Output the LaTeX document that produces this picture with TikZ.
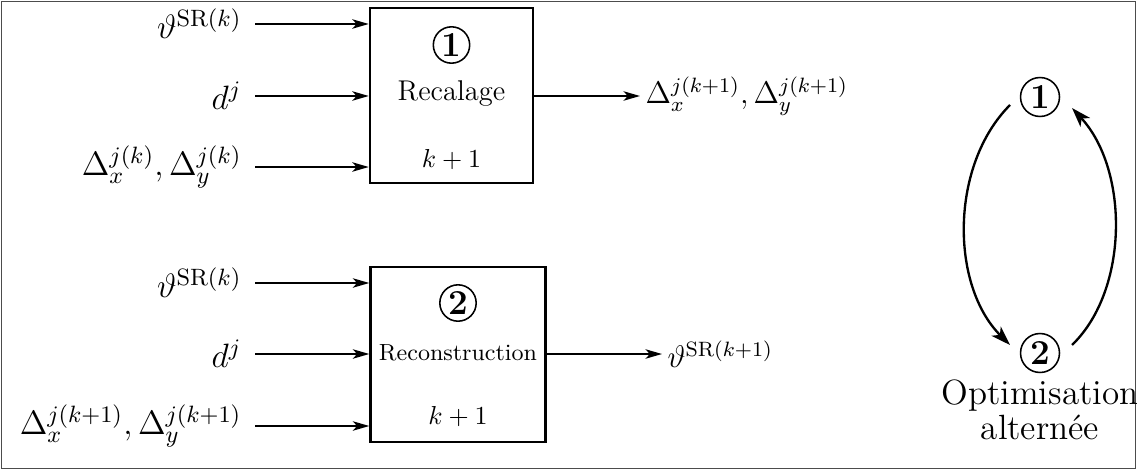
\RequirePackage{fix-cm}
\documentclass[tikz,border=0pt]{standalone}
\usetikzlibrary{arrows.meta}
\begin{document}
\begin{tikzpicture}[x=0.385pt,y=-0.385pt,
  arr/.style={line width=0.8pt,-{Stealth[length=6.3pt,width=3.6pt,inset=1.6pt]}},
  blk/.style={draw,line width=0.9pt,minimum width=#1,minimum height=67.4pt,inner sep=0pt},
  inlab/.style={anchor=east,inner xsep=5pt,inner ysep=0pt,font=\fontsize{13}{15}\selectfont},
  outlab/.style={anchor=west,inner xsep=2pt,inner ysep=0pt,font=\fontsize{12}{14}\selectfont},
  num/.style={circle,draw,line width=0.6pt,minimum size=14pt,inner sep=0pt,font=\fontsize{13.5}{15}\selectfont\bfseries},
  cyc/.style={line width=0.9pt,-{Stealth[length=7.5pt,width=5pt,inset=2pt]}}
]
\useasboundingbox (0,0) rectangle (1137,470);
\draw[black!70,line width=0.5pt] (1.5,1.5) rectangle (1135.5,468.5);

% block 1
\node[blk=62.8pt] (b1) at (451.5,95.5) {};
\node[num] (n1) at (451.5,45) {1};
\node[font=\fontsize{11}{13}\selectfont] (t1) at (451.5,94) {Recalage};
\node (k1) at (451.5,160) {$k+1$};

\node[inlab] (i11) at (255,24) {$\vartheta^{\mathrm{SR}(k)}$};
\node[inlab] (i12) at (255,96) {$d^j$};
\node[inlab] (i13) at (255,167) {$\Delta_x^{j(k)},\Delta_y^{j(k)}$};
\draw[arr] (i11.east) -- (i11.east -| b1.west);
\draw[arr] (i12.east) -- (i12.east -| b1.west);
\draw[arr] (i13.east) -- (i13.east -| b1.west);

\node[outlab] (o1) at (640,96) {$\Delta_x^{j(k+1)},\Delta_y^{j(k+1)}$};
\draw[arr] (b1.east |- o1.west) -- (o1.west);

% block 2
\node[blk=67.4pt] (b2) at (458,354.5) {};
\node[num] (n2) at (458,303) {2};
\node[font=\fontsize{9}{11}\selectfont] (t2) at (458,353) {Reconstruction};
\node (k2) at (458,417) {$k+1$};

\node[inlab] (i21) at (255,283) {$\vartheta^{\mathrm{SR}(k)}$};
\node[inlab] (i22) at (255,354) {$d^j$};
\node[inlab] (i23) at (255,426) {$\Delta_x^{j(k+1)},\Delta_y^{j(k+1)}$};
\draw[arr] (i21.east) -- (i21.east -| b2.west);
\draw[arr] (i22.east) -- (i22.east -| b2.west);
\draw[arr] (i23.east) -- (i23.east -| b2.west);

\node[outlab] (o2) at (662,354) {$\vartheta^{\mathrm{SR}(k+1)}$};
\draw[arr] (b2.east |- o2.west) -- (o2.west);

% cycle
\node[num,minimum size=15pt] (c1) at (1040,97) {1};
\node[num,minimum size=15pt] (c2) at (1040,353) {2};
\node[align=center,font=\fontsize{13.5}{13.5}\selectfont] (opt) at (1040,410) {Optimisation\\alternée};
\draw[cyc] ([shift={(-30,8)}]c1.center) .. controls +(-60,60) and +(-60,-60) .. ([shift={(-30,-8)}]c2.center);
\draw[cyc] ([shift={(32,-8)}]c2.center) .. controls +(57,-55) and +(57,62) .. ([shift={(32,11)}]c1.center);
\end{tikzpicture}
\end{document}
